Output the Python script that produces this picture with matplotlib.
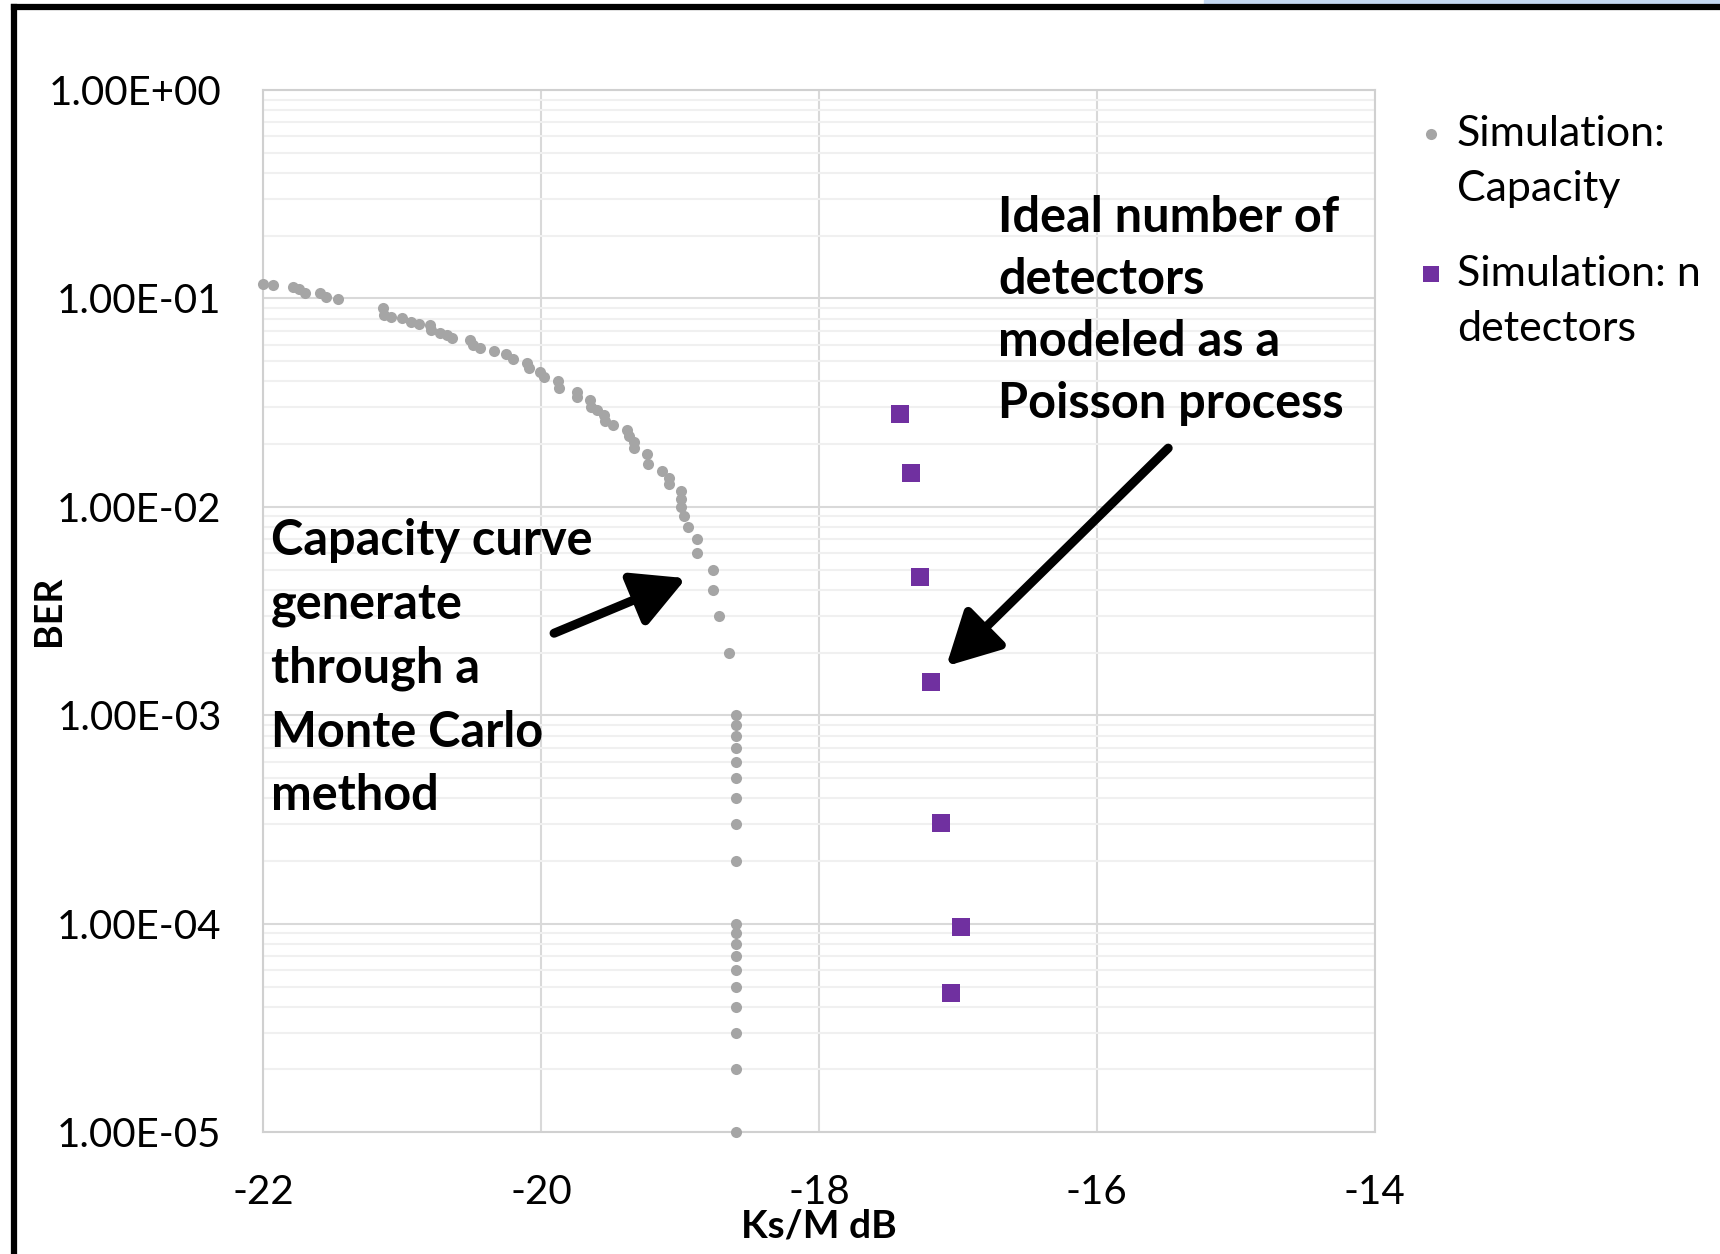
import numpy as np
import matplotlib
matplotlib.use("Agg")
import matplotlib.pyplot as plt
from matplotlib.lines import Line2D
from matplotlib.patches import Rectangle
from matplotlib.ticker import FuncFormatter, LogLocator, NullFormatter

plt.rcParams['font.family'] = ['Lato', 'DejaVu Sans']

# Simulation: Capacity (Monte Carlo), Ks/M in dB vs BER
cap_x = [-22.0, -21.93, -21.79, -21.74, -21.70, -21.59, -21.55, -21.46,
         -21.14, -21.13, -21.08, -21.00, -20.94, -20.88, -20.80, -20.79,
         -20.73, -20.68, -20.64, -20.51, -20.49, -20.44, -20.34, -20.25,
         -20.20, -20.10, -20.09, -20.01, -19.98, -19.88, -19.87, -19.74,
         -19.74, -19.65, -19.64, -19.60, -19.55, -19.54, -19.48, -19.38,
         -19.37, -19.33, -19.33, -19.24, -19.23, -19.13, -19.08, -19.08,
         -18.99, -18.99, -18.99, -18.97, -18.94, -18.88, -18.875, -18.765,
         -18.765, -18.72, -18.65,
         -18.6, -18.6, -18.6, -18.6, -18.6, -18.6, -18.6, -18.6, -18.6,
         -18.6, -18.6, -18.6, -18.6, -18.6, -18.6, -18.6, -18.6, -18.6, -18.6]
cap_ber = [0.117, 0.1155, 0.1138, 0.1106, 0.1065, 0.1058, 0.1013, 0.0991,
           0.0897, 0.0832, 0.0817, 0.0802, 0.0773, 0.0754, 0.0745, 0.0705,
           0.0684, 0.0667, 0.0644, 0.0631, 0.0598, 0.0576, 0.0559, 0.0541,
           0.0510, 0.0489, 0.0462, 0.0445, 0.0418, 0.0403, 0.0374, 0.0357,
           0.0338, 0.0325, 0.0302, 0.0291, 0.0276, 0.0258, 0.0247, 0.0235,
           0.0220, 0.0205, 0.0191, 0.0180, 0.0160, 0.0149, 0.0137, 0.0129,
           0.0119, 0.0109, 0.0100, 0.0090, 0.0080, 0.0070, 0.0060, 0.0050,
           0.0040, 0.0030, 0.0020,
           1e-3, 9e-4, 8e-4, 7e-4, 6e-4, 5e-4, 4e-4, 3e-4, 2e-4,
           1e-4, 9e-5, 8e-5, 7e-5, 6e-5, 5e-5, 4e-5, 3e-5, 2e-5, 1e-5]

# Simulation: n detectors (Poisson model)
det_x = [-17.42, -17.34, -17.27, -17.19, -17.12, -16.98, -17.05]
det_ber = [2.78e-2, 1.46e-2, 4.59e-3, 1.45e-3, 3.03e-4, 9.6e-5, 4.68e-5]

x_ticks = [-22, -20, -18, -16, -14]
y_ticks = [1e-5, 1e-4, 1e-3, 1e-2, 1e-1, 1e0]

fig = plt.figure(figsize=(17.2, 12.54), dpi=100)
ax = fig.add_axes([0.1531, 0.0971, 0.6461, 0.8311])

ax.plot(cap_x, cap_ber, 'o', color='#a5a5a5', markersize=8, markeredgewidth=0,
        clip_on=False, zorder=3)
ax.plot(det_x, det_ber, 's', color='#7030a0', markersize=12.5, markeredgewidth=0,
        clip_on=False, zorder=3)

ax.set_yscale('log')
ax.set_xlim(-22, -14)
ax.set_ylim(1e-5, 1e0)
ax.set_xticks(x_ticks)
ax.set_xticklabels([str(v) for v in x_ticks])
ax.set_yticks(y_ticks)
ax.yaxis.set_major_formatter(FuncFormatter(lambda v, p: f"{v:.2E}"))
ax.yaxis.set_minor_locator(LogLocator(base=10, subs=np.arange(2, 10)))
ax.yaxis.set_minor_formatter(NullFormatter())

ax.tick_params(axis='both', which='both', length=0, labelsize=29, colors='black')
ax.tick_params(axis='y', pad=30)
ax.tick_params(axis='x', pad=30)

ax.grid(True, which='major', color='#d9d9d9', linewidth=1.5)
ax.grid(True, which='minor', axis='y', color='#f0f0f0', linewidth=1.5)
ax.set_axisbelow(True)
for s in ax.spines.values():
    s.set_color('#d0d0d0')
    s.set_linewidth(1.5)

ax.set_xlabel('Ks/M dB', fontsize=28, fontweight='bold')
ax.xaxis.set_label_coords(0.5, -0.0902)
ax.xaxis.label.set_va('center')
ax.set_ylabel('BER', fontsize=27, fontweight='bold')
ax.yaxis.set_label_coords(-0.193, 0.5)
ax.yaxis.label.set_va('center')

# annotations
ax.text(-21.945, 10 ** -2.774,
        'Capacity curve\ngenerate\nthrough a\nMonte Carlo\nmethod',
        fontsize=35, fontweight='bold', ha='left', va='center', linespacing=1.5)
ax.annotate('', xy=(-18.956, 10 ** -2.342), xytext=(-19.907, 10 ** -2.606),
            arrowprops=dict(arrowstyle='-|>,head_length=1.6,head_width=0.85',
                            color='black', lw=6.5, mutation_scale=20,
                            shrinkA=0, shrinkB=0))

ax.text(-16.71, 10 ** -1.056,
        'Ideal number of\ndetectors\nmodeled as a\nPoisson process',
        fontsize=35, fontweight='bold', ha='left', va='center', linespacing=1.46)
ax.annotate('', xy=(-17.084, 10 ** -2.764), xytext=(-15.486, 10 ** -1.718),
            arrowprops=dict(arrowstyle='-|>,head_length=1.6,head_width=0.85',
                            color='black', lw=6.5, mutation_scale=20,
                            shrinkA=0, shrinkB=0))

# legend, drawn by hand so the marker sits on the first line
fig.add_artist(Line2D([0.832], [0.8931], marker='o', color='#a5a5a5',
                      markersize=8, markeredgewidth=0, transform=fig.transFigure))
fig.text(0.847, 0.8712, 'Simulation:\nCapacity', fontsize=31, ha='left',
         va='center', linespacing=1.54)
fig.add_artist(Line2D([0.832], [0.7815], marker='s', color='#7030a0',
                      markersize=12, markeredgewidth=0, transform=fig.transFigure))
fig.text(0.847, 0.7596, 'Simulation: n\ndetectors', fontsize=31, ha='left',
         va='center', linespacing=1.54)

# slide frame around the chart
fig.add_artist(Rectangle((0.7, 0.9968), 0.3, 0.0032, color='#c4d8f2',
                         transform=fig.transFigure, zorder=0))
fig.add_artist(Line2D([14 / 1720, 14 / 1720], [0, 1 - 7 / 1254], color='black',
                      linewidth=4.5, transform=fig.transFigure,
                      solid_capstyle='projecting'))
fig.add_artist(Line2D([14 / 1720, 1], [1 - 7 / 1254, 1 - 7 / 1254], color='black',
                      linewidth=4.5, transform=fig.transFigure,
                      solid_capstyle='projecting'))

fig.savefig('out.png', dpi=100)
